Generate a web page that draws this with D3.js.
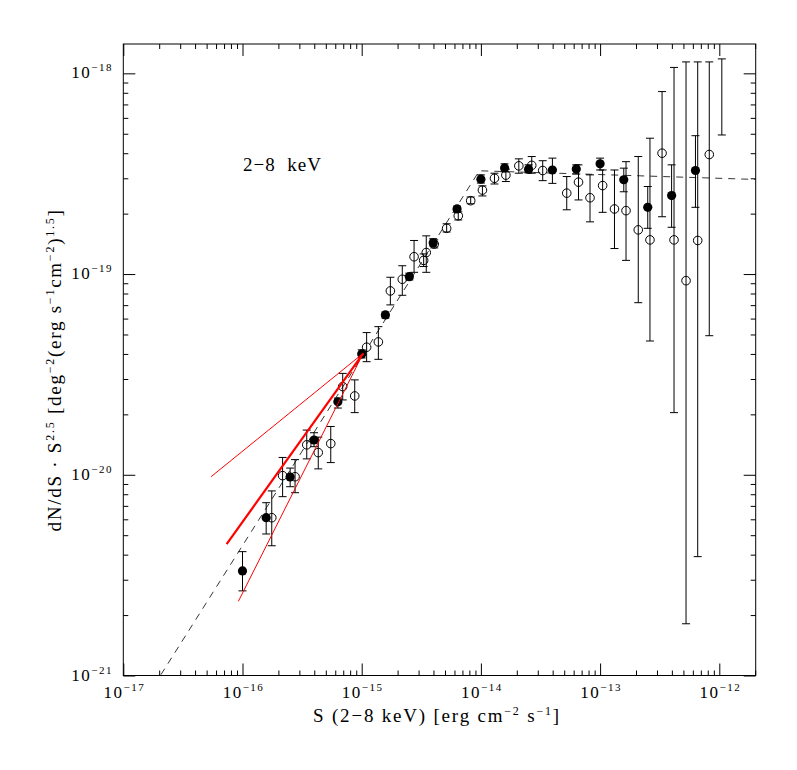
<!DOCTYPE html>
<html>
<head>
<meta charset="utf-8">
<script src="https://cdn.jsdelivr.net/npm/d3@7"></script>
<style>
  body { margin: 0; background: #fff; }
  text { font-family: "Liberation Serif", "DejaVu Serif", serif; fill: #000; }
</style>
</head>
<body>
<div id="chart"></div>
<script>
// tick labels (powers of ten)
const xTickExps = [-17, -16, -15, -14, -13, -12]
const yTickExps = [-21, -20, -19, -18]

// filled circles
const filledS = [1.00e-16, 1.58e-16, 2.51e-16, 3.98e-16, 6.31e-16, 1.00e-15, 1.58e-15, 2.51e-15, 3.98e-15, 6.31e-15,
  1.00e-14, 1.58e-14, 2.51e-14, 3.98e-14, 6.31e-14, 1.00e-13, 1.58e-13, 2.51e-13, 3.98e-13, 6.31e-13]
const filledV = [3.32e-21, 6.11e-21, 9.75e-21, 1.49e-20, 2.31e-20, 4.00e-20, 6.26e-20, 9.70e-20, 1.43e-19, 2.11e-19,
  2.97e-19, 3.38e-19, 3.33e-19, 3.30e-19, 3.34e-19, 3.54e-19, 2.95e-19, 2.15e-19, 2.46e-19, 3.28e-19]
const filledLo = [2.64e-21, 5.07e-21, 8.72e-21, 1.38e-20, 2.15e-20, 3.82e-20, 6.04e-20, 9.35e-20, 1.38e-19, 2.04e-19,
  2.84e-19, 3.23e-19, 3.19e-19, 2.83e-19, 3.15e-19, 3.30e-19, 2.57e-19, 1.69e-19, 1.71e-19, 2.15e-19]
const filledHi = [4.14e-21, 7.26e-21, 1.08e-20, 1.62e-20, 2.41e-20, 4.19e-20, 6.47e-20, 1.01e-19, 1.50e-19, 2.18e-19,
  3.12e-19, 3.54e-19, 3.50e-19, 3.78e-19, 3.50e-19, 3.78e-19, 3.37e-19, 2.73e-19, 3.50e-19, 4.89e-19]

// open circles
const openS = [1.76e-16, 2.17e-16, 2.76e-16, 3.46e-16, 4.32e-16, 5.50e-16, 6.93e-16, 8.74e-16, 1.10e-15, 1.38e-15,
  1.74e-15, 2.19e-15, 2.75e-15, 3.31e-15, 3.48e-15, 4.06e-15, 5.16e-15, 6.46e-15, 8.21e-15, 1.03e-14,
  1.30e-14, 1.62e-14, 2.08e-14, 2.67e-14, 3.30e-14, 5.25e-14, 6.59e-14, 8.23e-14, 1.05e-13, 1.32e-13,
  1.65e-13, 2.09e-13, 2.62e-13, 3.31e-13, 4.17e-13, 5.26e-13, 6.59e-13, 8.24e-13]
const openV = [6.11e-21, 9.90e-21, 9.78e-21, 1.41e-20, 1.29e-20, 1.43e-20, 2.75e-20, 2.47e-20, 4.32e-20, 4.59e-20,
  8.24e-20, 9.42e-20, 1.22e-19, 1.17e-19, 1.28e-19, 1.41e-19, 1.69e-19, 1.95e-19, 2.32e-19, 2.62e-19,
  3.00e-19, 3.11e-19, 3.46e-19, 3.48e-19, 3.28e-19, 2.53e-19, 2.87e-19, 2.40e-19, 2.76e-19, 2.11e-19,
  2.07e-19, 1.66e-19, 1.48e-19, 4.00e-19, 1.48e-19, 9.27e-20, 1.47e-19, 3.94e-19]
const openLo = [4.43e-21, 7.78e-21, 8.14e-21, 1.20e-20, 1.07e-20, 1.15e-20, 2.36e-20, 2.04e-20, 3.66e-20, 3.76e-20,
  7.02e-20, 7.84e-20, 1.02e-19, 1.09e-19, 1.02e-19, 1.35e-19, 1.62e-19, 1.86e-19, 2.24e-19, 2.45e-19,
  2.81e-19, 2.89e-19, 3.18e-19, 3.18e-19, 2.92e-19, 2.09e-19, 2.34e-19, 1.82e-19, 2.03e-19, 1.34e-19,
  1.17e-19, 7.20e-20, 4.64e-20, 1.93e-19, 2.04e-20, 1.81e-21, 3.91e-21, 4.93e-20]
const openHi = [8.31e-21, 1.22e-20, 1.19e-20, 1.67e-20, 1.54e-20, 1.74e-20, 3.20e-20, 2.97e-20, 5.11e-20, 5.47e-20,
  9.64e-20, 1.10e-19, 1.47e-19, 1.26e-19, 1.55e-19, 1.48e-19, 1.78e-19, 2.04e-19, 2.42e-19, 2.75e-19,
  3.18e-19, 3.33e-19, 3.75e-19, 3.85e-19, 3.67e-19, 3.06e-19, 3.50e-19, 3.12e-19, 3.30e-19, 3.30e-19,
  3.63e-19, 3.85e-19, 4.75e-19, 8.11e-19, 1.07e-18, 1.14e-18, 1.14e-18, 1.14e-18]

// error bar without a visible marker (brightest bin)
const barOnlyS = [1.05e-12]
const barOnlyLo = [4.93e-19]
const barOnlyHi = [1.18e-18]

// dashed model curve (knots)
const modelS = [2.07e-17, 9.7e-15, 2.02e-12]
const modelV = [1.01e-21, 3.27e-19, 2.96e-19]

// red slope fan: common pivot + three faint-end starts
const pivotS = 1.03e-15
const pivotV = 4.03e-20
const fanS = [5.45e-17, 7.36e-17, 9.23e-17]
const fanV = [9.78e-21, 4.51e-21, 2.34e-21]
const fanWidth = [1, 2.2, 1]

const W = 797, H = 770
const m = {left: 123.3, right: 755.7, top: 44, bottom: 675.5}

const svg = d3.select('#chart').append('svg')
  .attr('width', W)
  .attr('height', H)
  .style('background', '#fff')

const x = d3.scaleLog().domain([1e-17, 2.02e-12]).range([m.left, m.right])
const y = d3.scaleLog().domain([1e-21, 1.40e-18]).range([m.bottom, m.top])

svg.append('clipPath').attr('id', 'plot-clip')
  .append('rect')
  .attr('x', m.left).attr('y', m.top)
  .attr('width', m.right - m.left).attr('height', m.bottom - m.top)

// ticks
const isMajor = v => Math.abs(Math.log10(v) - Math.round(Math.log10(v))) < 1e-6
const xTicks = x.ticks().filter(v => v >= 1e-17 && v <= 2.02e-12)
const yTicks = y.ticks()

function addAxis(axisFn, scale, vals, size, tx, ty) {
  let g = svg.append('g')
    .attr('transform', `translate(${tx},${ty})`)
    .call(axisFn(scale).tickValues(vals).tickSize(size).tickFormat(''))
  g.select('.domain').remove()
  g.selectAll('line').attr('stroke', '#000').attr('stroke-width', 1)
}

const xMinor = xTicks.filter(v => !isMajor(v)), xMajor = xTicks.filter(isMajor)
const yMinor = yTicks.filter(v => !isMajor(v)), yMajor = yTicks.filter(isMajor)

addAxis(d3.axisBottom, x, xMinor, -5, 0, m.bottom)
addAxis(d3.axisBottom, x, xMajor, -12, 0, m.bottom)
addAxis(d3.axisTop, x, xMinor, -5, 0, m.top)
addAxis(d3.axisTop, x, xMajor, -12, 0, m.top)
addAxis(d3.axisLeft, y, yMinor, -5, m.left, 0)
addAxis(d3.axisLeft, y, yMajor, -12, m.left, 0)
addAxis(d3.axisRight, y, yMinor, -5, m.right, 0)
addAxis(d3.axisRight, y, yMajor, -12, m.right, 0)

svg.append('rect')
  .attr('x', m.left).attr('y', m.top)
  .attr('width', m.right - m.left).attr('height', m.bottom - m.top)
  .attr('fill', 'none').attr('stroke', '#000').attr('stroke-width', 1)

// tick labels
function powLabel(sel, e) {
  sel.append('tspan').text('10')
  sel.append('tspan').attr('font-size', 11).attr('dy', -7).text('\u2212' + Math.abs(e))
}

xTickExps.forEach(e => {
  let t = svg.append('text')
    .attr('x', x(Math.pow(10, e)) + 1)
    .attr('y', 698)
    .attr('text-anchor', 'middle')
    .attr('font-size', 17)
    .attr('letter-spacing', 1.5)
  powLabel(t, e)
})

yTickExps.forEach(e => {
  let t = svg.append('text')
    .attr('x', 113)
    .attr('y', y(Math.pow(10, e)) + 5)
    .attr('text-anchor', 'end')
    .attr('font-size', 17)
    .attr('letter-spacing', 1.5)
  powLabel(t, e)
})

// axis titles
const xt = svg.append('text')
  .attr('x', 437).attr('y', 722)
  .attr('text-anchor', 'middle')
  .attr('font-size', 19)
  .attr('letter-spacing', 1.8)
xt.append('tspan').text('S (2\u22128 keV) [erg cm')
xt.append('tspan').attr('font-size', 12).attr('dy', -7).text('\u22122')
xt.append('tspan').attr('dy', 7).text(' s')
xt.append('tspan').attr('font-size', 12).attr('dy', -7).text('\u22121')
xt.append('tspan').attr('dy', 7).text(']')

const yt = svg.append('text')
  .attr('transform', 'translate(61,370) rotate(-90)')
  .attr('text-anchor', 'middle')
  .attr('font-size', 19)
  .attr('letter-spacing', 1.75)
yt.append('tspan').text('dN/dS \u00b7 S')
yt.append('tspan').attr('font-size', 12).attr('dy', -7).text('2.5')
yt.append('tspan').attr('dy', 7).text(' [deg')
yt.append('tspan').attr('font-size', 12).attr('dy', -7).text('\u22122')
yt.append('tspan').attr('dy', 7).text('(erg s')
yt.append('tspan').attr('font-size', 12).attr('dy', -7).text('\u22121')
yt.append('tspan').attr('dy', 7).text('cm')
yt.append('tspan').attr('font-size', 12).attr('dy', -7).text('\u22122')
yt.append('tspan').attr('dy', 7).text(')')
yt.append('tspan').attr('font-size', 12).attr('dy', -7).text('1.5')
yt.append('tspan').attr('dy', 7).text(']')

svg.append('text')
  .attr('x', 243).attr('y', 171)
  .attr('font-size', 19)
  .attr('letter-spacing', 1)
  .attr('xml:space', 'preserve')
  .text('2\u22128  keV')

const plot = svg.append('g').attr('clip-path', 'url(#plot-clip)')

// model curve
const model = modelS.map((s, i) => [s, modelV[i]])
plot.append('path')
  .datum(model)
  .attr('d', d3.line().x(d => x(d[0])).y(d => y(d[1])))
  .attr('fill', 'none')
  .attr('stroke', '#000')
  .attr('stroke-width', 0.8)
  .attr('stroke-dasharray', '7,6')

// error bars
function drawBars(sArr, loArr, hiArr) {
  let rows = sArr.map((s, i) => ({s: s, lo: loArr[i], hi: hiArr[i]}))
  let g = plot.append('g').attr('stroke', '#000').attr('stroke-width', 1)
  g.selectAll('.bar').data(rows).enter().append('line')
    .attr('x1', d => x(d.s)).attr('x2', d => x(d.s))
    .attr('y1', d => y(d.lo)).attr('y2', d => y(d.hi))
  g.selectAll('.cap-lo').data(rows).enter().append('line')
    .attr('x1', d => x(d.s) - 4).attr('x2', d => x(d.s) + 4)
    .attr('y1', d => y(d.lo)).attr('y2', d => y(d.lo))
  g.selectAll('.cap-hi').data(rows).enter().append('line')
    .attr('x1', d => x(d.s) - 4).attr('x2', d => x(d.s) + 4)
    .attr('y1', d => y(d.hi)).attr('y2', d => y(d.hi))
}

drawBars(openS, openLo, openHi)
drawBars(barOnlyS, barOnlyLo, barOnlyHi)
drawBars(filledS, filledLo, filledHi)

plot.selectAll('.open-pt')
  .data(openS.map((s, i) => ({s: s, v: openV[i]})))
  .enter().append('circle')
  .attr('class', 'open-pt')
  .attr('cx', d => x(d.s))
  .attr('cy', d => y(d.v))
  .attr('r', 4.3)
  .attr('fill', 'none')
  .attr('stroke', '#000')
  .attr('stroke-width', 1)

plot.selectAll('.filled-pt')
  .data(filledS.map((s, i) => ({s: s, v: filledV[i]})))
  .enter().append('circle')
  .attr('class', 'filled-pt')
  .attr('cx', d => x(d.s))
  .attr('cy', d => y(d.v))
  .attr('r', 4.6)
  .attr('fill', '#000')

// red slope fan
plot.selectAll('.fan')
  .data(fanS.map((s, i) => ({s: s, v: fanV[i], w: fanWidth[i]})))
  .enter().append('line')
  .attr('class', 'fan')
  .attr('x1', d => x(d.s)).attr('y1', d => y(d.v))
  .attr('x2', x(pivotS)).attr('y2', y(pivotV))
  .attr('stroke', '#ff0000')
  .attr('stroke-width', d => d.w)
</script>
</body>
</html>
